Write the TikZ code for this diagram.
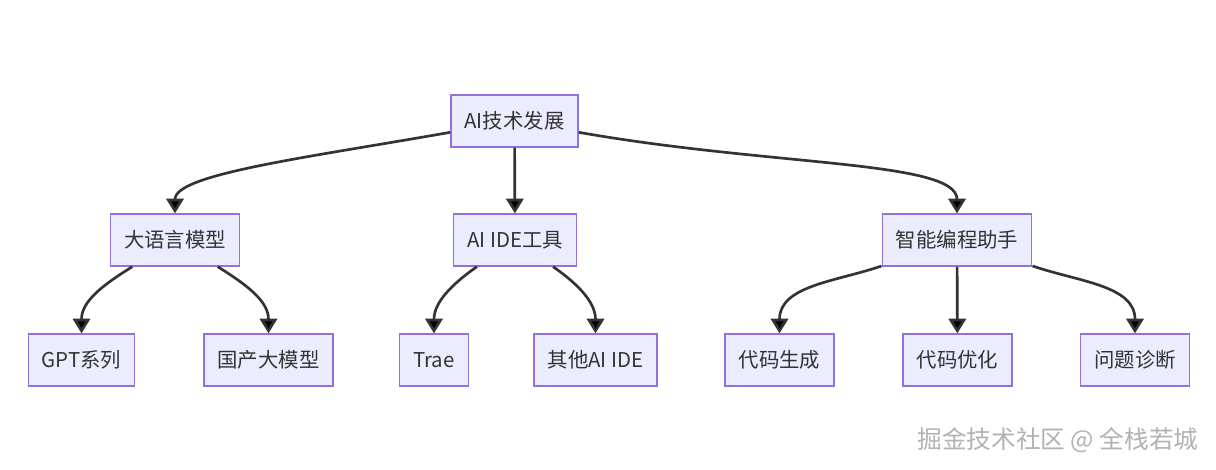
\documentclass[tikz,border=0pt]{standalone}
\usepackage{fontspec}
\newfontfamily\cjk{Noto Sans CJK SC}
\usetikzlibrary{arrows.meta}

\definecolor{boxfill}{HTML}{ECECFF}
\definecolor{boxline}{HTML}{9370DB}
\definecolor{linkcol}{HTML}{333333}

\tikzset{
    topic/.style={draw=boxline, fill=boxfill, line width=1pt, text=linkcol,
        font=\cjk\fontsize{15.3}{18}\selectfont, inner xsep=10.2pt, inner ysep=0pt,
        minimum height=39pt},
    link/.style={->, draw=linkcol, line width=2pt},
    mark text/.style={font=\cjk\fontsize{18.5}{22}\selectfont, text=gray!60}
}

\begin{document}
\begin{tikzpicture}[>={Triangle[length=11pt,width=13pt]}, x=0.75pt, y=-0.75pt]
    \useasboundingbox (0,0) rectangle (1216,470);

    % Nodes {root, branches, leaves}
    \node [topic]   (root)      at (514.5,121)  {AI技术发展};
    \node [topic]   (llm)       at (175,240)    {大语言模型};
    \node [topic]   (ide)       at (515,240)    {AI IDE工具};
    \node [topic]   (assist)    at (957,240)    {智能编程助手};
    \node [topic]   (gpt)       at (81.5,360)   {GPT系列};
    \node [topic]   (domestic)  at (268.5,360)  {国产大模型};
    \node [topic]   (trae)      at (434,360)    {Trae};
    \node [topic]   (otheride)  at (595.5,360)  {其他AI IDE};
    \node [topic]   (codegen)   at (779.5,360)  {代码生成};
    \node [topic]   (codeopt)   at (957.5,360)  {代码优化};
    \node [topic]   (diagnose)  at (1135,360)   {问题诊断};

    % Paths
    \path [link]    (root)   edge [out=190, in=90, out looseness=1.3, in looseness=0.35]  (llm);
    \path [link]    (root)   edge                   (ide);
    \path [link]    (root)   edge [out=-10, in=90, out looseness=1.3, in looseness=0.35]  (assist);
    \path [link]    (llm)    edge [out=212, in=90]  (gpt);
    \path [link]    (llm)    edge [out=-32, in=90]  (domestic);
    \path [link]    (ide)    edge [out=215, in=90]  (trae);
    \path [link]    (ide)    edge [out=-35, in=90]  (otheride);
    \path [link]    (assist) edge [out=199, in=90]  (codegen);
    \path [link]    (assist) edge                   (codeopt);
    \path [link]    (assist) edge [out=-19, in=90]  (diagnose);

    % Watermark
    \node [mark text] (credit) at (1058,440) {掘金技术社区 @ 全栈若城};
\end{tikzpicture}
\end{document}
